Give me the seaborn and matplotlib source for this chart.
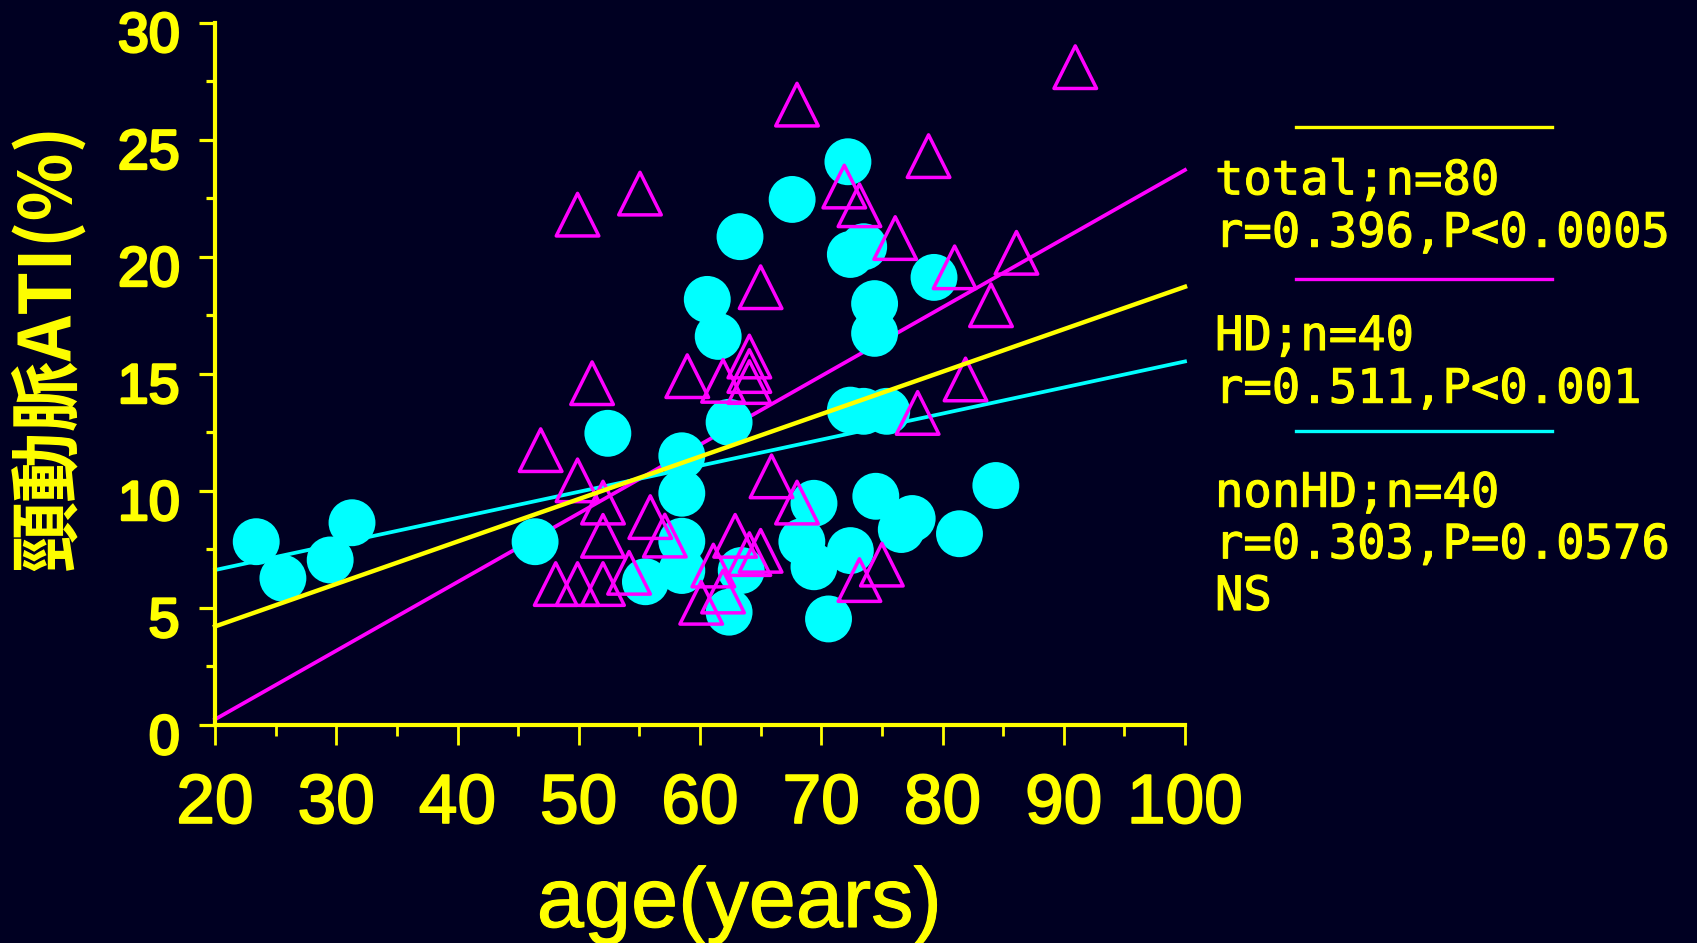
import numpy as np
import pandas as pd
import matplotlib
matplotlib.use("Agg")
import matplotlib.pyplot as plt
import matplotlib.transforms as mtransforms
import matplotlib.patheffects as pe
from matplotlib.lines import Line2D
import seaborn as sns

# ---------------- data ----------------
nonhd_age = [23.4, 25.6, 29.5, 31.3, 46.4, 52.4, 55.5, 58.5, 58.5, 58.5, 58.5,
             60.6, 61.5, 62.4, 62.4, 63.3, 63.4, 67.6, 68.4, 69.4, 69.4, 70.6,
             72.2, 72.4, 73.5, 72.4, 73.5, 75.4, 72.4, 74.4, 74.4, 74.5, 76.6,
             77.5, 79.3, 81.4, 84.4]
nonhd_ati = [7.83, 6.27, 7.05, 8.64, 7.83, 12.46, 6.12, 11.5, 9.9, 7.85, 6.6,
             18.18, 16.6, 12.93, 4.82, 20.86, 6.6, 22.45, 7.83, 9.47, 6.76, 4.53,
             24.06, 20.1, 20.43, 13.45, 13.4, 13.4, 7.45, 18.0, 16.73, 9.77, 8.35,
             8.82, 19.12, 8.17, 10.23]

hd_age = [49.9, 55.05, 68.0, 90.95, 78.85, 71.9, 73.15, 76.1, 81.0, 86.1,
          84.0, 65.0, 51.1, 58.95, 61.9, 64.07, 64.07, 64.07, 81.9, 77.95,
          46.86, 49.9, 65.9, 52.0, 68.0, 55.9, 52.0, 57.1, 62.9, 64.07,
          65.0, 61.1, 54.15, 48.1, 49.9, 52.0, 61.9, 60.1, 73.15, 75.0]
hd_ati = [21.8, 22.7, 26.5, 28.1, 24.3, 23.0, 22.2, 20.8, 19.55, 20.17,
          17.93, 18.7, 14.6, 14.9, 14.7, 15.74, 15.12, 14.65, 14.76, 13.33,
          11.74, 10.45, 10.62, 9.5, 9.5, 8.88, 8.08, 8.09, 8.08, 7.3,
          7.44, 6.81, 6.5, 6.02, 6.02, 6.02, 5.7, 5.22, 6.19, 6.85]

# regression lines (value at age 20 and at age 100)
fit_groups = ["total", "HD", "nonHD"]
fit_x = [20, 100]
fit_at20 = [4.21, 0.24, 6.62]
fit_at100 = [18.72, 23.71, 15.53]

legend_head = ["total;n=80", "HD;n=40", "nonHD;n=40"]
legend_stat = ["r=0.396,P<0.0005", "r=0.511,P<0.001", "r=0.303,P=0.0576"]
legend_note = "NS"

x_ticks = [20, 30, 40, 50, 60, 70, 80, 90, 100]
y_ticks = [0, 5, 10, 15, 20, 25, 30]
x_label = "age(years)"
y_label = "頸動脈ATI(%)"

# ---------------- style ----------------
BG = "#000022"
YEL = "#FFFF00"
CYA = "#00FFFF"
MAG = "#FF00FF"
group_colors = {"total": YEL, "HD": MAG, "nonHD": CYA}
group_lw = {"total": 3.2, "HD": 2.7, "nonHD": 2.7}
group_z = {"total": 6, "HD": 2, "nonHD": 2}

plt.rcParams['font.family'] = ['Liberation Sans', 'DejaVu Sans']

def heavy(w):
    return [pe.withStroke(linewidth=w, foreground=YEL)]

W, H = 1697, 943
fig = plt.figure(figsize=(W / 100, H / 100), dpi=100, facecolor=BG)
ax = fig.add_axes([215 / W, 1 - 725 / H, 970 / W, 702.3 / H])
ax.set_facecolor(BG)

# regression lines
for g, a, b in zip(fit_groups, fit_at20, fit_at100):
    sns.lineplot(x=fit_x, y=[a, b], ax=ax, color=group_colors[g],
                 linewidth=group_lw[g], zorder=group_z[g], legend=False)
for ln in ax.lines:
    ln.set_clip_on(False)

# nonHD circles
sns.scatterplot(x=nonhd_age, y=nonhd_ati, ax=ax, marker='o', s=1140,
                color=CYA, edgecolor='none', linewidth=0, zorder=3, legend=False)
# HD triangles (open)
sns.scatterplot(x=hd_age, y=hd_ati, ax=ax, marker='^', s=940,
                color=MAG, linewidth=2.5, zorder=4, legend=False)
coll = ax.collections[-1]
coll.set_facecolor('none')
coll.set_edgecolor(MAG)
coll.set_linewidth(2.5)

ax.set_xlim(20, 100)
ax.set_ylim(0, 30)
ax.set_xticks(x_ticks)
ax.set_xticks([25, 35, 45, 55, 65, 75, 85, 95], minor=True)
ax.set_yticks(y_ticks)
ax.set_yticks([2.5, 7.5, 12.5, 17.5, 22.5, 27.5], minor=True)
ax.set_xticklabels([str(t) for t in x_ticks])
ax.set_yticklabels([str(t) for t in y_ticks])

for s in ["top", "right"]:
    ax.spines[s].set_visible(False)
for s in ["left", "bottom"]:
    ax.spines[s].set_color(YEL)
    ax.spines[s].set_linewidth(3.0)

ax.tick_params(axis='x', which='major', direction='out', length=14.5, width=2.0,
               color=YEL, labelcolor=YEL, labelsize=50, pad=20)
ax.tick_params(axis='x', which='minor', direction='out', length=8, width=2.0,
               color=YEL)
ax.tick_params(axis='y', which='major', direction='out', length=11.5, width=2.3,
               color=YEL, labelcolor=YEL, labelsize=40, pad=14)
ax.tick_params(axis='y', which='minor', direction='out', length=6.5, width=2.3,
               color=YEL)

off = mtransforms.ScaledTranslation(0, -9 / 100, fig.dpi_scale_trans)
for lab in ax.get_yticklabels():
    lab.set_transform(lab.get_transform() + off)
    lab.set_path_effects(heavy(2.0))
for lab in ax.get_xticklabels():
    lab.set_path_effects(heavy(1.3))

ax.set_xlabel(x_label, color=YEL, fontsize=61)
ax.xaxis.label.set_va('baseline')
ax.xaxis.label.set_path_effects(heavy(0.8))
ax.xaxis.set_label_coords((739.5 - 215) / 970, (725 - 927) / 702.3)
ax.set_ylabel("")

fig.text(47.5 / W, 1 - 347 / H, y_label, rotation=90, ha='center', va='center',
         color=YEL, fontsize=51, fontweight='bold',
         family=['Noto Sans CJK JP', 'DejaVu Sans'])

# legend block on the right
line_y = [126.7, 279.3, 431.0]
head_y = [194.3, 350.0, 506.7]
stat_y = [246.7, 402.7, 558.3]
mono = ['DejaVu Sans Mono']
for g, ly, hy, sy, ht, st in zip(fit_groups, line_y, head_y, stat_y,
                                 legend_head, legend_stat):
    fig.add_artist(Line2D([1296 / W, 1552 / W], [1 - ly / H, 1 - ly / H],
                          color=group_colors[g], linewidth=2.4,
                          transform=fig.transFigure))
    fig.text(1215 / W, 1 - hy / H, ht, color=YEL, fontsize=34, family=mono,
             va='baseline', ha='left', path_effects=heavy(0.8))
    fig.text(1215 / W, 1 - sy / H, st, color=YEL, fontsize=34, family=mono,
             va='baseline', ha='left', path_effects=heavy(0.8))
fig.text(1215 / W, 1 - 610 / H, legend_note, color=YEL, fontsize=34,
         family=mono, va='baseline', ha='left', path_effects=heavy(0.8))

fig.savefig("out.png", dpi=100, facecolor=BG)
